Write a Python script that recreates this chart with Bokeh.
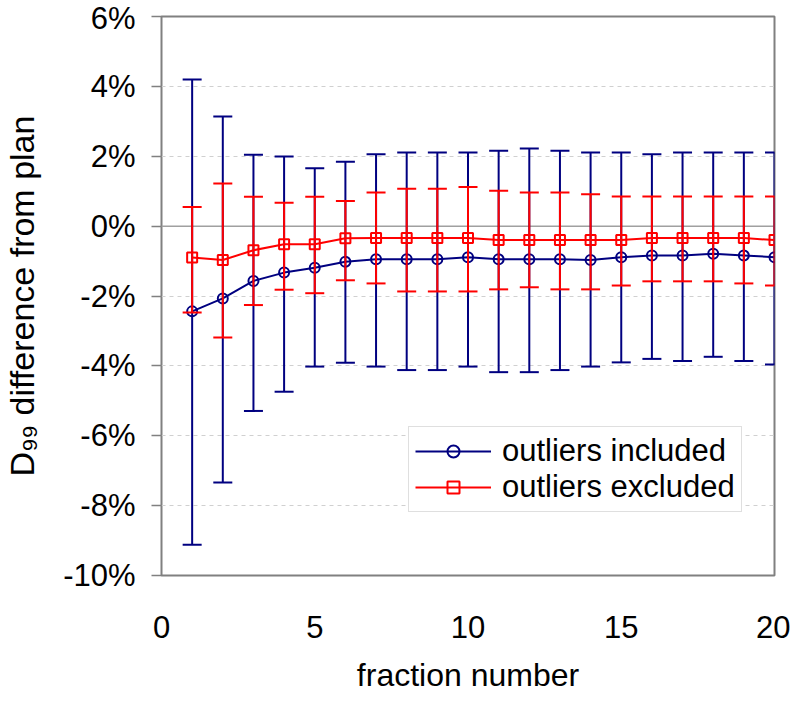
from bokeh.plotting import figure
from bokeh.models import (Range1d, FixedTicker, ColumnDataSource, Legend,
                          LegendItem, Span)
from bokeh.embed import file_html
from bokeh.resources import INLINE

# ---------------- data (values in percent) ----------------
fraction = list(range(1, 21))

incl_mean = [-2.44, -2.07, -1.57, -1.33, -1.19, -1.02, -0.95, -0.95, -0.95, -0.89,
             -0.95, -0.95, -0.95, -0.97, -0.89, -0.84, -0.84, -0.79, -0.84, -0.89]
incl_upper = [4.20, 3.14, 2.04, 1.99, 1.66, 1.84, 2.06, 2.11, 2.11, 2.11,
              2.16, 2.22, 2.16, 2.11, 2.11, 2.06, 2.11, 2.11, 2.11, 2.11]
incl_lower = [-9.12, -7.34, -5.29, -4.74, -4.02, -3.91, -4.02, -4.12, -4.12, -4.02,
              -4.18, -4.18, -4.12, -4.02, -3.90, -3.80, -3.86, -3.74, -3.86, -3.96]

excl_mean = [-0.90, -0.97, -0.69, -0.52, -0.52, -0.35, -0.34, -0.34, -0.34, -0.34,
             -0.40, -0.40, -0.40, -0.40, -0.40, -0.34, -0.34, -0.34, -0.34, -0.40]
excl_upper = [0.55, 1.22, 0.84, 0.67, 0.84, 0.72, 0.96, 1.07, 1.07, 1.12,
              1.01, 0.96, 0.96, 0.91, 0.85, 0.85, 0.85, 0.85, 0.85, 0.85]
excl_lower = [-2.47, -3.19, -2.26, -1.82, -1.92, -1.55, -1.64, -1.87, -1.87, -1.87,
              -1.81, -1.75, -1.81, -1.81, -1.70, -1.58, -1.58, -1.58, -1.64, -1.70]

series_names = ["outliers included", "outliers excluded"]
y_ticks = [-10, -8, -6, -4, -2, 0, 2, 4, 6]
y_tick_labels = ["-10%", "-8%", "-6%", "-4%", "-2%", "0%", "2%", "4%", "6%"]
x_ticks = [0, 5, 10, 15, 20]
x_title = "fraction number"
y_title = "D\u2089\u2089 difference from plan"

# ---------------- styling ----------------
BLUE = "#000080"
RED = "#FF0000"
FONT = "Liberation Sans"

p = figure(width=790, height=695,
           x_range=Range1d(0, 20), y_range=Range1d(-10, 6),
           output_backend="svg", toolbar_location=None,
           min_border_left=159, min_border_right=16,
           min_border_top=16, min_border_bottom=119)
p.background_fill_color = "white"
p.border_fill_color = "white"
p.outline_line_color = "#808080"
p.outline_line_width = 2

p.xgrid.visible = False
p.ygrid.ticker = FixedTicker(ticks=y_ticks)
p.ygrid.grid_line_color = "#D0D0D0"
p.ygrid.grid_line_dash = "4 4"
p.ygrid.grid_line_width = 1

# y axis
p.yaxis.ticker = FixedTicker(ticks=y_ticks)
p.yaxis.major_label_overrides = dict(zip(y_ticks, y_tick_labels))
p.yaxis.axis_line_color = None
p.yaxis.major_tick_line_color = "#808080"
p.yaxis.major_tick_line_width = 1.5
p.yaxis.major_tick_out = 10
p.yaxis.major_tick_in = 0
p.yaxis.minor_tick_line_color = None
p.yaxis.major_label_standoff = 16
p.yaxis.major_label_text_font = FONT
p.yaxis.major_label_text_font_size = "31px"
p.yaxis.major_label_text_color = "black"
p.yaxis.axis_label = y_title
p.yaxis.axis_label_text_font = FONT
p.yaxis.axis_label_text_font_size = "34px"
p.yaxis.axis_label_text_font_style = "normal"
p.yaxis.axis_label_text_color = "black"
p.yaxis.axis_label_standoff = 19

# x axis
p.xaxis.ticker = FixedTicker(ticks=x_ticks)
p.xaxis.axis_line_color = None
p.xaxis.major_tick_line_color = None
p.xaxis.major_tick_out = 0
p.xaxis.major_tick_in = 0
p.xaxis.minor_tick_line_color = None
p.xaxis.major_label_standoff = 40
p.xaxis.major_label_text_font = FONT
p.xaxis.major_label_text_font_size = "31px"
p.xaxis.major_label_text_color = "black"
p.xaxis.axis_label = x_title
p.xaxis.axis_label_text_font = FONT
p.xaxis.axis_label_text_font_size = "32px"
p.xaxis.axis_label_text_font_style = "normal"
p.xaxis.axis_label_text_color = "black"
p.xaxis.axis_label_standoff = 16

# zero line
p.add_layout(Span(location=0, dimension="width", line_color="#A0A0A0",
                  line_width=1.5, level="underlay"))


def draw_series(mean, upper, lower, color, marker):
    src = ColumnDataSource(dict(x=fraction, mean=mean, upper=upper, lower=lower))
    p.segment(x0="x", y0="lower", x1="x", y1="upper", source=src,
              line_color=color, line_width=2)
    p.scatter(x="x", y="upper", marker="dash", size=19, source=src,
              line_color=color, line_width=2)
    p.scatter(x="x", y="lower", marker="dash", size=19, source=src,
              line_color=color, line_width=2)
    ln = p.line(x="x", y="mean", source=src, line_color=color, line_width=2)
    mk = p.scatter(x="x", y="mean", marker=marker, size=10, source=src,
                   fill_color=None, line_color=color, line_width=2)
    return ln, mk


ln_in, mk_in = draw_series(incl_mean, incl_upper, incl_lower, BLUE, "circle")
ln_ex, mk_ex = draw_series(excl_mean, excl_upper, excl_lower, RED, "square")

legend = Legend(items=[LegendItem(label=series_names[0], renderers=[ln_in, mk_in]),
                       LegendItem(label=series_names[1], renderers=[ln_ex, mk_ex])],
                location=(247, 63))
legend.border_line_color = "#C0C0C0"
legend.border_line_width = 1
legend.background_fill_color = "white"
legend.background_fill_alpha = 1.0
legend.margin = 0
legend.padding = 6
legend.spacing = 0
legend.glyph_width = 76
legend.glyph_height = 30
legend.label_height = 30
legend.label_standoff = 11
legend.label_text_font = FONT
legend.label_text_font_size = "31px"
legend.label_text_color = "black"
p.add_layout(legend)

open("out.html", "w").write(file_html(p, INLINE))
